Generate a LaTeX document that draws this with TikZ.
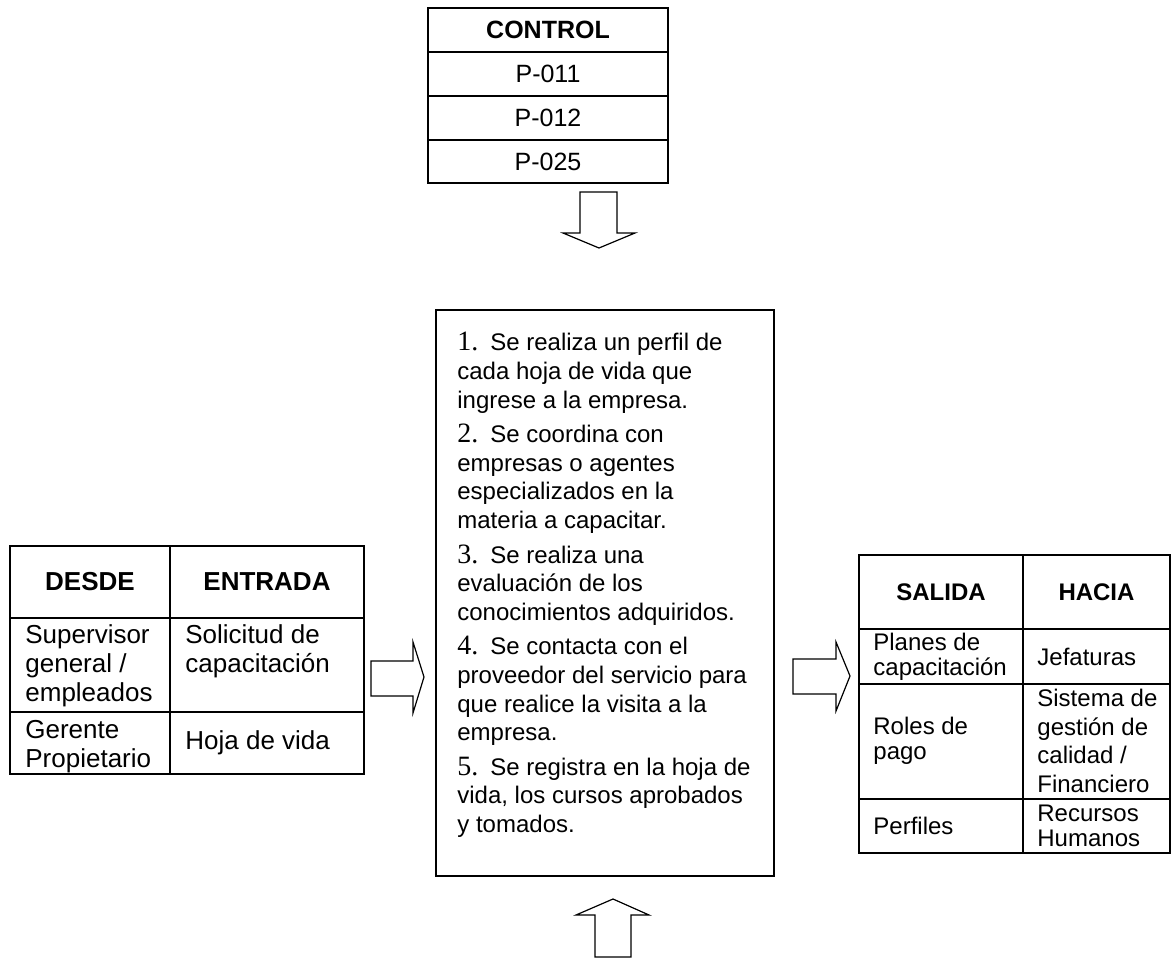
\documentclass[tikz,border=0pt]{standalone}
\usepackage{fontspec}
\setmainfont{Liberation Sans}
\newfontfamily\numfont{Liberation Serif}
\tikzset{
  cell/.style={draw, line width=1pt},
  blockarrow/.style={draw, line width=0.6pt, fill=white, line join=miter},
  celltext/.style={inner sep=0pt, align=left},
}
\newcommand{\paso}[1]{{\numfont\fontsize{14}{14.3}\selectfont #1.}\hspace{6pt}}
\begin{document}
\begin{tikzpicture}[x=0.5pt, y=-0.5pt, font=\fontsize{12}{14.3}\selectfont]
        \useasboundingbox (0,0) rectangle (1173,958);

        % Control table
        \begin{scope}[font=\fontsize{12.5}{14}\selectfont]
        \draw[cell] (428,8) rectangle (668,52) node[midway] (ctrl) {\textbf{CONTROL}};
        \draw[cell] (428,52) rectangle (668,96) node[midway] (p011) {P-011};
        \draw[cell] (428,96) rectangle (668,140) node[midway] (p012) {P-012};
        \draw[cell] (428,140) rectangle (668,183) node[midway] (p025) {P-025};
        \end{scope}

        % Process box
        \draw[line width=0.75pt] (436,310) rectangle (774,876);
        \node[celltext, anchor=north west] (pasos) at (457,332) {%
          \paso{1}Se realiza un perfil de\\ cada hoja de vida que\\ ingrese a la empresa.\\[3pt]
          \paso{2}Se coordina con\\ empresas o agentes\\ especializados en la\\ materia a capacitar.\\[3pt]
          \paso{3}Se realiza una\\ evaluación de los\\ conocimientos adquiridos.\\[3pt]
          \paso{4}Se contacta con el\\ proveedor del servicio para\\ que realice la visita a la\\ empresa.\\[3pt]
          \paso{5}Se registra en la hoja de\\ vida, los cursos aprobados\\ y tomados.};

        % Input table
        \begin{scope}[font=\fontsize{13}{14.6}\selectfont]
        \draw[cell] (10,546) rectangle (170,618) node[midway] (desde) {\textbf{DESDE}};
        \draw[cell] (170,546) rectangle (364,618) node[midway] (entrada) {\textbf{ENTRADA}};
        \draw[cell] (10,618) rectangle (170,712);
        \draw[cell] (170,618) rectangle (364,712);
        \draw[cell] (10,712) rectangle (170,774);
        \draw[cell] (170,712) rectangle (364,774);
        \node[celltext, anchor=north west] (supervisor) at (25,624) {Supervisor\\ general /\\ empleados};
        \node[celltext, anchor=north west] (solicitud) at (185,624) {Solicitud de\\ capacitación};
        \node[celltext, anchor=north west] (gerente) at (25,720) {Gerente\\ Propietario};
        \node[celltext, anchor=west] (hoja) at (185,743) {Hoja de vida};
        \end{scope}

        % Output table
        \begin{scope}[font=\fontsize{12}{12.5}\selectfont]
        \draw[cell] (859,555) rectangle (1023,629) node[midway] (salida) {\textbf{SALIDA}};
        \draw[cell] (1023,555) rectangle (1170,629) node[midway] (hacia) {\textbf{HACIA}};
        \draw[cell] (859,629) rectangle (1023,684);
        \draw[cell] (1023,629) rectangle (1170,684);
        \draw[cell] (859,684) rectangle (1023,799);
        \draw[cell] (1023,684) rectangle (1170,799);
        \draw[cell] (859,799) rectangle (1023,853);
        \draw[cell] (1023,799) rectangle (1170,853);
        \node[celltext, anchor=west] (planes) at (873,657) {Planes de\\ capacitación};
        \node[celltext, anchor=west] (jefaturas) at (1037,657) {Jefaturas};
        \node[celltext, anchor=west] (roles) at (873,741) {Roles de\\ pago};
        \node[celltext, anchor=west, font=\fontsize{12}{14.3}\selectfont] (sistema) at (1037,741) {Sistema de\\ gestión de\\ calidad /\\ Financiero};
        \node[celltext, anchor=west] (perfiles) at (873,826) {Perfiles};
        \node[celltext, anchor=west] (recursos) at (1037,826) {Recursos\\ Humanos};
        \end{scope}

        % Block arrows
        \draw[blockarrow] (580,192) -- (617,192) -- (617,233) -- (635,233) -- (599,248) -- (563,233) -- (580,233) -- cycle;
        \draw[blockarrow] (371,661) -- (413,661) -- (413,642) -- (424,677) -- (413,713) -- (413,696) -- (371,696) -- cycle;
        \draw[blockarrow] (793,659) -- (836,659) -- (836,642) -- (850,676) -- (836,711) -- (836,694) -- (793,694) -- cycle;
        \draw[blockarrow] (595,957) -- (595,915) -- (576,915) -- (613,899) -- (649,915) -- (631,915) -- (631,957) -- cycle;
    \end{tikzpicture}
\end{document}
